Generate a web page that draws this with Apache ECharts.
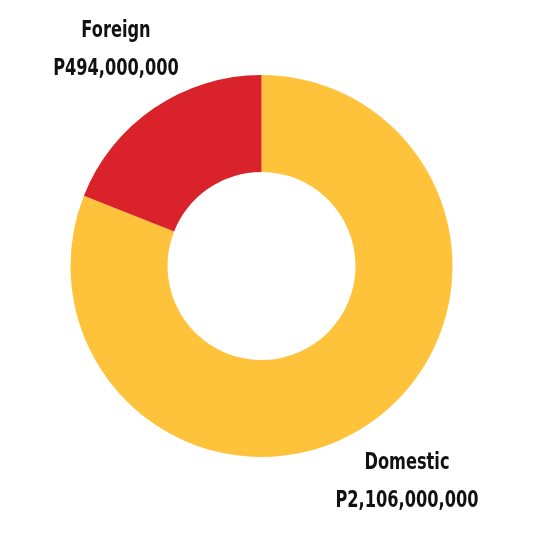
<!DOCTYPE html>
<html>
<head>
<meta charset="utf-8">
<script src="https://cdn.jsdelivr.net/npm/echarts@6/dist/echarts.min.js"></script>
<style>
html,body{margin:0;padding:0;background:#fff;}
#chart{width:553px;height:557px;}
</style>
</head>
<body>
<div id="chart"></div>
<script>
var categories = ["Domestic", "Foreign"];
var values = [2106000000, 494000000];
var valueLabels = ["P2,106,000,000", "P494,000,000"];
var colors = ["#FEC33B", "#D9222A"];

var labelPos = [
  {x: 407, y: 482},
  {x: 116, y: 50}
];

var textStyleBase = {
  fontFamily: '"DejaVu Sans", sans-serif',
  fontWeight: 'bold',
  fontSize: 23,
  lineHeight: 38,
  fill: '#111',
  align: 'center',
  verticalAlign: 'middle'
};

var chart = echarts.init(document.getElementById('chart'));
chart.setOption({
  animation: false,
  graphic: categories.map(function (c, i) {
    return {
      type: 'text',
      x: labelPos[i].x,
      y: labelPos[i].y,
      scaleX: 0.705,
      style: Object.assign({text: c + '\n' + valueLabels[i]}, textStyleBase)
    };
  }),
  series: [{
    type: 'pie',
    center: [261.5, 266],
    radius: [94, 191],
    startAngle: 90,
    clockwise: true,
    data: categories.map(function (c, i) {
      return {name: c, value: values[i], itemStyle: {color: colors[i]}};
    }),
    label: {show: false},
    labelLine: {show: false},
    emphasis: {disabled: true}
  }]
});
</script>
</body>
</html>
